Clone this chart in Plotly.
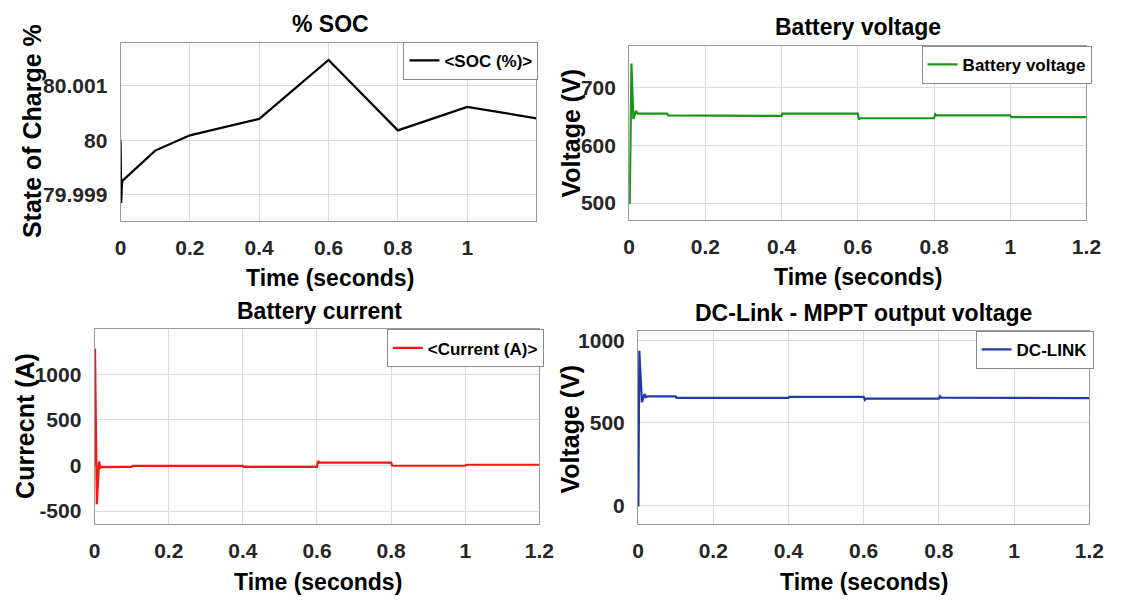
import plotly.graph_objects as go

# ---------------- data ----------------
soc_t = [0, 0.001, 0.002, 0.004, 0.006, 0.1, 0.2, 0.4, 0.6, 0.8, 1.0, 1.2]
soc_v = [80.0, 79.99955, 79.99885, 79.9992, 79.99926, 79.99981, 80.00009,
         80.00039, 80.00147, 80.00018, 80.00061, 80.0004]

vb_t = [0, 0.0015, 0.006, 0.011, 0.014, 0.018, 0.022, 0.1, 0.102, 0.4, 0.402,
        0.6, 0.603, 0.606, 0.8, 0.803, 0.806, 1.0, 1.003, 1.2]
vb_v = [500, 500, 742, 646, 652, 660, 655, 655, 652, 651, 655,
        655, 645, 647, 647, 654, 652, 652, 649, 649]

ib_t = [0, 0.001, 0.006, 0.012, 0.016, 0.02, 0.1, 0.102, 0.4, 0.402,
        0.6, 0.603, 0.606, 0.8, 0.803, 1.0, 1.003, 1.2]
ib_v = [0, 1280, -425, 42, -25, -18, -15, -5, -5, -15,
        -15, 50, 30, 30, -3, -3, 8, 8]

dc_t = [0, 0.001, 0.0035, 0.0105, 0.0175, 0.021, 0.025, 0.1, 0.102, 0.4, 0.402,
        0.6, 0.603, 0.606, 0.8, 0.803, 0.806, 1.0, 1.003, 1.2]
dc_v = [0, 0, 936, 624, 674, 655, 660, 660, 651, 651, 656,
        656, 638, 646, 646, 660, 652, 652, 649, 649]

titles = ["% SOC", "Battery voltage", "Battery current", "DC-Link - MPPT output voltage"]
ytitles = ["State of Charge %", "Voltage (V)", "Currecnt (A)", "Voltage (V)"]
xtitle = "Time (seconds)"
legend_names = ["<SOC (%)>", "Battery voltage", "<Current (A)>", "DC-LINK"]

soc_ticks = [79.999, 80.0, 80.001]
soc_ticktext = ["79.999", "80", "80.001"]
vb_ticks = [500, 600, 700]
ib_ticks = [-500, 0, 500, 1000]
dc_ticks = [0, 500, 1000]
x_ticks_soc = [0, 0.2, 0.4, 0.6, 0.8, 1.0]
x_ticks = [0, 0.2, 0.4, 0.6, 0.8, 1.0, 1.2]
x_ticktext = ["0", "0.2", "0.4", "0.6", "0.8", "1", "1.2"]

# ---------------- layout geometry (pixels) ----------------
W, H = 1126, 601
def px(x):
    return x / W
def py(y):
    return 1 - y / H

FONT = "Liberation Sans, Arial, sans-serif"
TICKCOL = "#262626"
GRID = "#dadada"
BORDER = "#9a9a9a"

fig = go.Figure()
colors = ["#000000", "#1a951a", "#ff1414", "#1f3ba6"]
series = [(soc_t, soc_v), (vb_t, vb_v), (ib_t, ib_v), (dc_t, dc_v)]
for i, ((t, v), c, nm) in enumerate(zip(series, colors, legend_names)):
    fig.add_trace(go.Scatter(
        x=t, y=v, mode="lines", name=nm,
        line=dict(color=c, width=2.2),
        xaxis="x" if i == 0 else f"x{i+1}",
        yaxis="y" if i == 0 else f"y{i+1}",
        legend="legend" if i == 0 else f"legend{i+1}",
        showlegend=True,
    ))

# plot areas in pixels: left, right, top, bottom
boxes = [
    (116.7, 540.3, 40.7, 219.3),
    (635.0, 1101.0, 44.0, 219.0),
    (90.3, 543.5, 328.0, 523.5),
    (644.0, 1104.0, 330.0, 524.0),
]
yranges = [[79.99853, 80.001787], [470.1, 772.6], [-638.6, 1495.6], [-114.7, 1056]]
xranges = [[0, 1.199], [0, 1.2], [0, 1.2], [0, 1.2]]
yticks = [(soc_ticks, soc_ticktext), (vb_ticks, [str(v) for v in vb_ticks]),
          (ib_ticks, [str(v) for v in ib_ticks]), (dc_ticks, [str(v) for v in dc_ticks])]

tickfont = dict(family=FONT, size=21, color=TICKCOL, weight="bold")
layout = dict(
    width=W, height=H,
    margin=dict(l=0, r=0, t=0, b=0),
    paper_bgcolor="white", plot_bgcolor="white",
    showlegend=True,
)
for i, (l, r, t, b) in enumerate(boxes):
    sfx = "" if i == 0 else str(i + 1)
    xt = (x_ticks_soc, ["0", "0.2", "0.4", "0.6", "0.8", "1"]) if i == 0 else (x_ticks, x_ticktext)
    layout["xaxis" + sfx] = dict(
        domain=[px(l), px(r)], range=xranges[i], anchor="y" + sfx,
        tickmode="array", tickvals=xt[0], ticktext=xt[1],
        showgrid=True, gridcolor=GRID, gridwidth=1, zeroline=False,
        showline=True, linecolor=BORDER, linewidth=1, mirror=True,
        ticks="", tickfont=tickfont, ticklabelstandoff=8,
    )
    layout["yaxis" + sfx] = dict(
        domain=[py(b), py(t)], range=yranges[i], anchor="x" + sfx,
        tickmode="array", tickvals=yticks[i][0], ticktext=yticks[i][1],
        showgrid=True, gridcolor=GRID, gridwidth=1, zeroline=False,
        showline=True, linecolor=BORDER, linewidth=1, mirror=True,
        ticks="", tickfont=tickfont, ticklabelstandoff=8,
    )

# legend top-left corners (pixels)
legend_pos = [(405.0, 40.0), (933.0, 44.0), (388.0, 328.5), (988.0, 330.0)]
for i, (lx, ly) in enumerate(legend_pos):
    key = "legend" if i == 0 else f"legend{i+1}"
    layout[key] = dict(
        x=px(lx), y=py(ly), xanchor="left", yanchor="top",
        xref="paper", yref="paper",
        bgcolor="white", bordercolor="#8a8a8a", borderwidth=1,
        font=dict(family=FONT, size=17, color="#000000", weight="bold"),
        itemwidth=30, tracegroupgap=0,
    )

fig.update_layout(**layout)

annots = []
title_pos = [(331, 22.5), (868.7, 25.5), (319.5, 310), (874, 312)]
for txt, (x, y) in zip(titles, title_pos):
    annots.append(dict(text=txt, x=px(x), y=py(y), xref="paper", yref="paper",
                       xanchor="center", yanchor="middle", showarrow=False,
                       font=dict(family=FONT, size=23, color="#000000", weight="bold")))
xt_pos = [(329.8, 276.5), (868.7, 276), (317.7, 581.5), (874, 581.5)]
for x, y in xt_pos:
    annots.append(dict(text=xtitle, x=px(x), y=py(y), xref="paper", yref="paper",
                       xanchor="center", yanchor="middle", showarrow=False,
                       font=dict(family=FONT, size=23, color="#000000", weight="bold")))
yt_pos = [(26, 130), (576, 131.7), (19.9, 425.8), (574.4, 428.3)]
for txt, (x, y) in zip(ytitles, yt_pos):
    annots.append(dict(text=txt, x=px(x), y=py(y), xref="paper", yref="paper",
                       xanchor="center", yanchor="middle", showarrow=False, textangle=-90,
                       font=dict(family=FONT, size=25, color="#000000", weight="bold")))
fig.update_layout(annotations=annots)

fig.write_html("out.html", config={"displayModeBar": False})
